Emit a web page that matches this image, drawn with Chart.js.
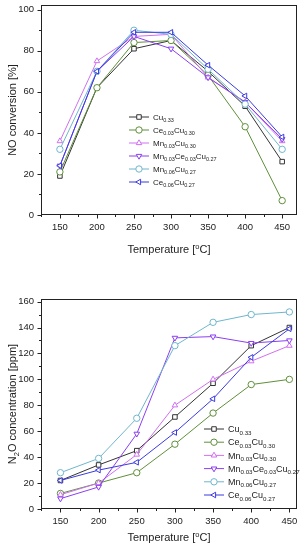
<!DOCTYPE html>
<html>
<head>
<meta charset="utf-8">
<script src="https://cdn.jsdelivr.net/npm/chart.js@4.4.1/dist/chart.umd.min.js"></script>
<style>
  html, body { margin: 0; padding: 0; background: #fff; }
  #wrap { position: relative; width: 306px; height: 550px; }
  .box { position: absolute; left: 0; width: 306px; }
</style>
</head>
<body>
<div id="wrap">
  <div class="box" style="top:0;height:270px"><canvas id="noChart" width="306" height="270"></canvas></div>
  <div class="box" style="top:270px;height:280px"><canvas id="n2oChart" width="306" height="280"></canvas></div>
</div>
<script>
// temperatures (x) and sample names
var temps = [150, 200, 250, 300, 350, 400, 450];
var names = ['Cu_{0.33}', 'Ce_{0.03}Cu_{0.30}', 'Mn_{0.03}Cu_{0.30}',
             'Mn_{0.03}Ce_{0.03}Cu_{0.27}', 'Mn_{0.06}Cu_{0.27}', 'Ce_{0.06}Cu_{0.27}'];
var colors = ['#333333', '#5f8f3a', '#d070f0', '#8a3ff0', '#6fb6cc', '#3b3be0'];
var markers = ['rect', 'circle', 'triangle', 'triangle', 'circle', 'triangle'];
var markerRot = [0, 0, 0, 180, 0, -90];

// NO conversion [%]
var noCu      = [19, 62, 81, 85, 70, 53, 26];
var noCe3     = [21, 62, 84, 85, 68, 43, 7];
var noMn3     = [36, 75, 87, 88, 67, 55, 36];
var noMn3Ce3  = [24, 70, 87, 81, 67, 55, 37];
var noMn6     = [32, 70, 90, 88, 71, 54, 32];
var noCe6     = [24, 70, 89, 89, 73, 58, 38];

// N2O concentration [ppm]
var n2oCu     = [22, 34, 45, 71, 97, 126, 140];
var n2oCe3    = [12, 20, 28, 50, 74, 96, 100];
var n2oMn3    = [11, 20, 42, 80, 100, 114, 126];
var n2oMn3Ce3 = [8, 17, 58, 132, 133, 128, 130];
var n2oMn6    = [28, 39, 70, 126, 144, 150, 152];
var n2oCe6    = [22, 30, 36, 59, 85, 117, 139];

// tick labels
var xTicks   = [150, 200, 250, 300, 350, 400, 450];
var noTicks  = [0, 20, 40, 60, 80, 100];
var n2oTicks = [0, 20, 40, 60, 80, 100, 120, 140, 160];

var FONT = "'Liberation Sans', Arial, sans-serif";

// text with _{sub} and ^{sup}
function richParts(s) {
    var parts = [], re = /([_^])\{([^}]*)\}/g, last = 0, m;
    while ((m = re.exec(s))) {
        if (m.index > last) parts.push({ t: s.slice(last, m.index), k: '' });
        parts.push({ t: m[2], k: m[1] });
        last = re.lastIndex;
    }
    if (last < s.length) parts.push({ t: s.slice(last), k: '' });
    return parts;
}

function richWidth(ctx, s, size, small) {
    var w = 0;
    richParts(s).forEach(function (p) {
        ctx.font = (p.k ? small : size) + 'px ' + FONT;
        w += ctx.measureText(p.t).width;
    });
    return w;
}

function drawRich(ctx, s, x, y, size, small) {
    ctx.textBaseline = 'alphabetic';
    ctx.textAlign = 'left';
    var base = y + size * 0.35;
    richParts(s).forEach(function (p) {
        ctx.font = (p.k ? small : size) + 'px ' + FONT;
        var dy = p.k === '_' ? size * 0.28 : (p.k === '^' ? -size * 0.38 : 0);
        ctx.fillText(p.t, x, base + dy);
        x += ctx.measureText(p.t).width;
    });
}

var deco = {
    id: 'deco',
    afterDraw: function (chart) {
        var o = chart.options.plugins.deco, ctx = chart.ctx, a = chart.chartArea;
        var xs = chart.scales.x, ys = chart.scales.y;
        var L = Math.round(a.left) + 0.5, R = Math.round(a.right) - 0.5;
        var T = Math.round(a.top) + 0.5, B = Math.round(a.bottom) - 0.5;
        ctx.save();
        ctx.strokeStyle = '#222';
        ctx.lineWidth = 1;
        ctx.strokeRect(L, T, R - L, B - T);

        // outward ticks, major and minor
        ctx.beginPath();
        for (var v = 125; v <= xs.max; v += 25) {
            var major = xTicks.indexOf(v) >= 0;
            var px = Math.round(xs.getPixelForValue(v)) + 0.5;
            ctx.moveTo(px, B);
            ctx.lineTo(px, B + (major ? 4 : 2.5));
        }
        var yt = o.yTicks;
        for (var i = 0; i < yt.length; i++) {
            var py = Math.round(ys.getPixelForValue(yt[i])) + 0.5;
            ctx.moveTo(L, py);
            ctx.lineTo(L - 4, py);
            if (i < yt.length - 1) {
                var pm = Math.round(ys.getPixelForValue((yt[i] + yt[i + 1]) / 2)) + 0.5;
                ctx.moveTo(L, pm);
                ctx.lineTo(L - 2.5, pm);
            }
        }
        ctx.stroke();

        // axis titles
        ctx.fillStyle = '#222';
        var cx = (a.left + a.right) / 2;
        var tw = richWidth(ctx, o.xTitle, 11, 7.5);
        drawRich(ctx, o.xTitle, cx - tw / 2, o.xTitleY, 11, 7.5);
        ctx.save();
        ctx.translate(12, (a.top + a.bottom) / 2);
        ctx.rotate(-Math.PI / 2);
        tw = richWidth(ctx, o.yTitle, 11, 7.5);
        drawRich(ctx, o.yTitle, -tw / 2, 0, 11, 7.5);
        ctx.restore();

        // legend with subscripts
        var lg = o.legend;
        chart.data.datasets.forEach(function (ds, k) {
            var y = lg.y + k * lg.step;
            ctx.strokeStyle = ds.borderColor;
            ctx.lineWidth = 1;
            ctx.beginPath();
            ctx.moveTo(lg.x, y);
            ctx.lineTo(lg.x + 20, y);
            ctx.stroke();
            ctx.fillStyle = '#fff';
            Chart.helpers.drawPoint(ctx, {
                pointStyle: ds.pointStyle, radius: 3.2, rotation: ds.pointRotation, borderWidth: 1
            }, lg.x + 10, y);
            ctx.fillStyle = '#222';
            drawRich(ctx, names[k], lg.x + 24, y, lg.size, lg.small);
        });
        ctx.restore();
    }
};

function makeSets(series) {
    return series.map(function (vals, i) {
        return {
            label: names[i].replace(/[_{}]/g, ''),
            data: vals.map(function (v, j) { return { x: temps[j], y: v }; }),
            borderColor: colors[i],
            backgroundColor: '#fff',
            borderWidth: 1,
            pointStyle: markers[i],
            pointRotation: markerRot[i],
            pointRadius: 3.2,
            pointBorderWidth: 1,
            order: series.length - i
        };
    });
}

function makeChart(id, series, yMax, xMax, yTicks, yTitle, padTop, xHeight, titleY, legend) {
    return new Chart(document.getElementById(id), {
        type: 'line',
        data: { datasets: makeSets(series) },
        options: {
            responsive: false,
            animation: false,
            layout: { padding: { top: padTop, right: 9, left: 0, bottom: 0 } },
            plugins: {
                legend: { display: false },
                tooltip: { enabled: false },
                deco: { xTitle: 'Temperature [^{o}C]', yTitle: yTitle, xTitleY: titleY, yTicks: yTicks, legend: legend }
            },
            scales: {
                x: {
                    type: 'linear', min: 124.5, max: xMax,
                    grid: { display: false, drawTicks: false },
                    border: { display: false },
                    afterBuildTicks: function (s) { s.ticks = xTicks.map(function (v) { return { value: v }; }); },
                    afterFit: function (s) { s.height = xHeight; s.paddingLeft = 0; s.paddingRight = 0; },
                    ticks: { padding: 7, color: '#222', font: { family: FONT, size: 9.5 } }
                },
                y: {
                    min: 0, max: yMax,
                    grid: { display: false, drawTicks: false },
                    border: { display: false },
                    afterBuildTicks: function (s) { s.ticks = yTicks.map(function (v) { return { value: v }; }); },
                    afterFit: function (s) { s.width = 41; s.paddingTop = 0; s.paddingBottom = 0; },
                    ticks: { padding: 7, color: '#222', font: { family: FONT, size: 9.5 } }
                }
            }
        },
        plugins: [deco]
    });
}

makeChart('noChart', [noCu, noCe3, noMn3, noMn3Ce3, noMn6, noCe6],
    102.3, 470, noTicks, 'NO conversion [%]', 5, 55, 249,
    { x: 129, y: 117, step: 13, size: 8, small: 5.5 });

makeChart('n2oChart', [n2oCu, n2oCe3, n2oMn3, n2oMn3Ce3, n2oMn6, n2oCe6],
    162, 460, n2oTicks, 'N_{2}O concentration [ppm]', 29, 41, 267,
    { x: 204, y: 159, step: 13.2, size: 9, small: 6.2 });
</script>
</body>
</html>
